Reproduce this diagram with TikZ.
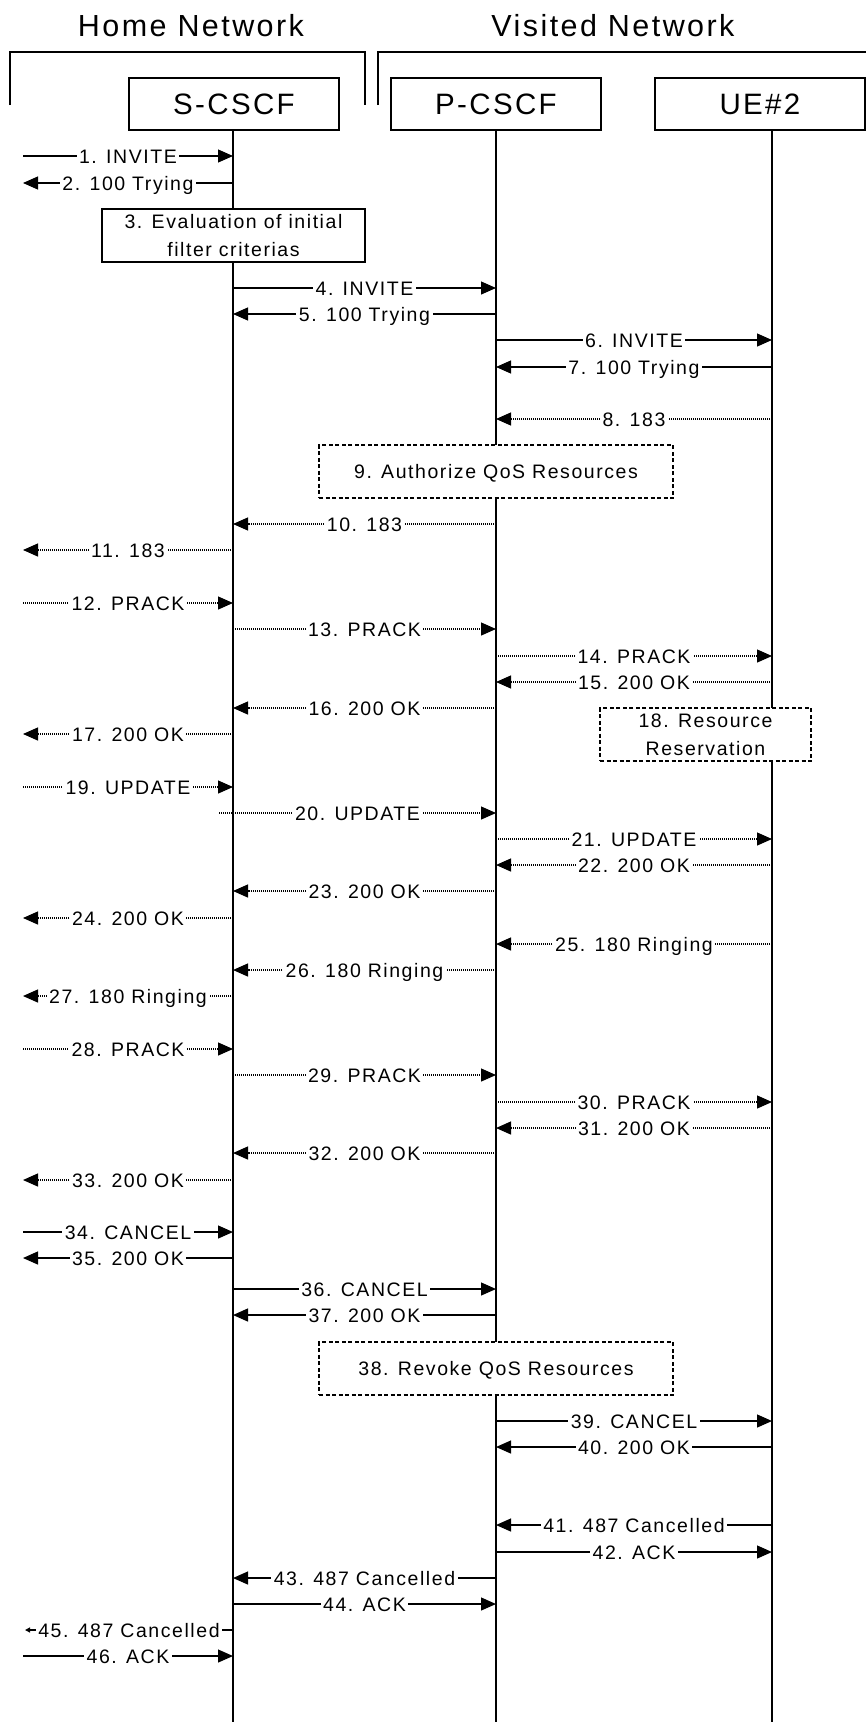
\documentclass[tikz,border=0pt]{standalone}
\usepackage{fontspec}
\setmainfont{Liberation Sans}[LetterSpace=8]
\usetikzlibrary{arrows.meta}
\newcommand\lblfont{\fontsize{19.5}{28}\selectfont}
\newcommand\bigfont{\fontsize{29.5}{32}\selectfont}
\newcommand\hdfont{\fontsize{30.5}{33}\selectfont}
\def\xL{23}
\def\xM{25}
\def\xK{219}
\def\xS{233}
\def\xP{496}
\def\xU{772}
\begin{document}
\begin{tikzpicture}[x=1pt,y=-1pt,
  life/.style={line width=2pt},
  frame/.style={line width=2pt},
  actor/.style={draw, line width=2pt, fill=white, minimum width=210pt, minimum height=52pt,
    font=\bigfont, inner sep=0pt, text height=21pt, text depth=0pt},
  head/.style={font=\hdfont, inner sep=0pt, text height=22pt, text depth=0pt},
  note/.style={draw, line width=2pt, fill=white, inner sep=0pt, font=\lblfont, align=center},
  dashbox/.style={dash pattern=on 4pt off 2.5pt},
  dnote/.style={note, dashbox, text height=14pt, text depth=0pt},
  lbl/.style={fill=white, inner xsep=2.5pt, inner ysep=1pt, font=\lblfont, text height=14pt, text depth=0pt},
  sol/.style={line width=1.2pt, -{Triangle[length=15pt,width=13pt]}},
  dot/.style={sol, dash pattern=on 1pt off 1pt},
  small/.style={line width=1.2pt, -{Triangle[length=5pt,width=5pt]}},
  mstyle/.style={#1}
]
\useasboundingbox (0,0) rectangle (866,1722);

% header brackets
\node[head] (hn) at (191,25) {Home Network};
\node[head] (vn) at (613,25) {Visited Network};
\draw[frame] (10,105) -- (10,52) -- (365,52) -- (365,105);
\draw[frame] (378,105) -- (378,52) -- (866,52);

% actors
\node[actor] (S) at (234,104) {S-CSCF};
\node[actor] (P) at (496,104) {P-CSCF};
\node[actor] (U) at (760,104) {UE\#2};

% lifelines
\coordinate (Sbot) at (\xS,1722);
\coordinate (Pbot) at (\xP,1722);
\coordinate (Ubot) at (\xU,1722);
\draw[life] (Sbot |- S.south) -- (Sbot);
\draw[life] (Pbot |- P.south) -- (Pbot);
\draw[life] (Ubot |- U.south) -- (Ubot);

% boxes
\node[note, minimum width=263pt, minimum height=53pt] (b3) at (233.5,235.5)
  {3. Evaluation of initial\\filter criterias};
\node[dnote, minimum width=354pt, minimum height=53pt] (b9) at (496,471.5)
  {9. Authorize QoS Resources};
\node[note, dashbox, minimum width=211pt, minimum height=53pt] (b18) at (705.5,734.5)
  {18. Resource\\Reservation};
\node[dnote, minimum width=354pt, minimum height=53pt] (b38) at (496,1368.5)
  {38. Revoke QoS Resources};

% messages
\foreach \n/\y/\a/\b/\st/\t in {
  1/156/L/S/sol/{1. INVITE},
  2/183/S/L/sol/{2. 100 Trying},
  4/288/S/P/sol/{4. INVITE},
  5/314/P/S/sol/{5. 100 Trying},
  6/340/P/U/sol/{6. INVITE},
  7/367/U/P/sol/{7. 100 Trying},
  8/419/U/P/dot/{8. 183},
  10/524/P/S/dot/{10. 183},
  11/550/S/L/dot/{11. 183},
  12/603/L/S/dot/{12. PRACK},
  13/629/S/P/dot/{13. PRACK},
  14/656/P/U/dot/{14. PRACK},
  15/682/U/P/dot/{15. 200 OK},
  16/708/P/S/dot/{16. 200 OK},
  17/734/S/L/dot/{17. 200 OK},
  19/787/L/S/dot/{19. UPDATE},
  20/813/K/P/dot/{20. UPDATE},
  21/839/P/U/dot/{21. UPDATE},
  22/865/U/P/dot/{22. 200 OK},
  23/891/P/S/dot/{23. 200 OK},
  24/918/S/L/dot/{24. 200 OK},
  25/944/U/P/dot/{25. 180 Ringing},
  26/970/P/S/dot/{26. 180 Ringing},
  27/996/S/L/dot/{27. 180 Ringing},
  28/1049/L/S/dot/{28. PRACK},
  29/1075/S/P/dot/{29. PRACK},
  30/1102/P/U/dot/{30. PRACK},
  31/1128/U/P/dot/{31. 200 OK},
  32/1153/P/S/dot/{32. 200 OK},
  33/1180/S/L/dot/{33. 200 OK},
  34/1232/L/S/sol/{34. CANCEL},
  35/1258/S/L/sol/{35. 200 OK},
  36/1289/S/P/sol/{36. CANCEL},
  37/1315/P/S/sol/{37. 200 OK},
  39/1421/P/U/sol/{39. CANCEL},
  40/1447/U/P/sol/{40. 200 OK},
  41/1525/U/P/sol/{41. 487 Cancelled},
  42/1552/P/U/sol/{42. ACK},
  43/1578/P/S/sol/{43. 487 Cancelled},
  44/1604/S/P/sol/{44. ACK},
  45/1630/S/M/small/{45. 487 Cancelled},
  46/1656/L/S/sol/{46. ACK}} {
  \coordinate (m\n s) at (\csname x\a\endcsname,\y);
  \coordinate (m\n e) at (\csname x\b\endcsname,\y);
  \draw[mstyle/.expand once=\st] (m\n s) -- node[lbl] (t\n) {\t} (m\n e);
}
\end{tikzpicture}
\end{document}
